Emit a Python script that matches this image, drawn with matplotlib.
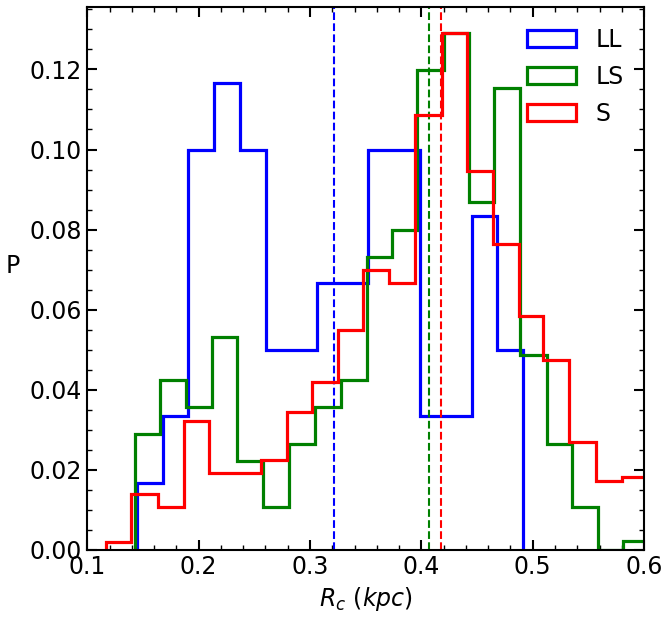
import numpy as np
import matplotlib
matplotlib.use("Agg")
import matplotlib.pyplot as plt
from matplotlib.ticker import MultipleLocator

# bin edges and per-bin probabilities
ll_edges = [0.1447, 0.1676, 0.1906, 0.2139, 0.2373, 0.2604, 0.2834, 0.3063,
            0.3293, 0.3523, 0.3755, 0.3987, 0.4219, 0.4452, 0.4677, 0.4910]
ll_prob = [0.0167, 0.0333, 0.1000, 0.1167, 0.1000, 0.0500, 0.0500, 0.0667,
           0.0667, 0.1000, 0.1000, 0.0333, 0.0333, 0.0833, 0.0500]

ls_edges = [0.1427, 0.1657, 0.1885, 0.2119, 0.2349, 0.2580, 0.2810, 0.3045,
            0.3275, 0.3508, 0.3739, 0.3963, 0.4203, 0.4428, 0.4652, 0.4886,
            0.5126, 0.5350, 0.5584, 0.5814, 0.6045]
ls_prob = [0.0288, 0.0423, 0.0356, 0.0531, 0.0222, 0.0108, 0.0265, 0.0356,
           0.0423, 0.0732, 0.0800, 0.1199, 0.1292, 0.0868, 0.1154, 0.0486,
           0.0265, 0.0108, 0.0000, 0.0022]

s_edges = [0.1166, 0.1397, 0.1631, 0.1870, 0.2094, 0.2325, 0.2556, 0.2790,
           0.3020, 0.3253, 0.3478, 0.3712, 0.3945, 0.4182, 0.4407, 0.4640,
           0.4877, 0.5095, 0.5329, 0.5566, 0.5800, 0.6033]
s_prob = [0.0019, 0.0139, 0.0107, 0.0321, 0.0192, 0.0192, 0.0224, 0.0343,
          0.0418, 0.0549, 0.0699, 0.0667, 0.1087, 0.1292, 0.0946, 0.0764,
          0.0583, 0.0475, 0.0269, 0.0173, 0.0182]

# medians (dashed lines)
medians = {'LL': 0.3212, 'LS': 0.4065, 'S': 0.4176}

series = [('LL', ll_edges, ll_prob, 'blue'),
          ('LS', ls_edges, ls_prob, 'green'),
          ('S', s_edges, s_prob, 'red')]


def main():
    fig = plt.figure(figsize=(6.71, 6.17), dpi=100)
    ax = fig.add_axes([0.130, 0.109, 0.830, 0.880])

    for name, edges, prob, c in series:
        edges = np.array(edges)
        ax.hist(edges[:-1], bins=edges, weights=prob, histtype='step',
                color=c, linewidth=2.3, label=name)
        ax.axvline(medians[name], color=c, linestyle='--', linewidth=1.5)

    ax.set_xlim(0.1, 0.6)
    ax.set_ylim(bottom=0)

    ax.xaxis.set_major_locator(MultipleLocator(0.1))
    ax.xaxis.set_minor_locator(MultipleLocator(0.02))
    ax.yaxis.set_major_locator(MultipleLocator(0.02))
    ax.yaxis.set_minor_locator(MultipleLocator(0.005))
    ax.tick_params(which='both', direction='in', top=True, right=True)
    ax.tick_params(which='major', length=7, width=1.5, labelsize=17, pad=4)
    ax.tick_params(which='minor', length=3.5, width=1)
    for sp in ax.spines.values():
        sp.set_linewidth(1.5)

    ax.set_xlabel(r'$R_c\ (kpc)$', fontsize=17)
    ax.set_ylabel('P', fontsize=17, rotation=0, labelpad=12)

    ax.legend(loc='upper right', frameon=False, fontsize=17,
              handlelength=2.1, handleheight=0.75, labelspacing=0.55,
              borderaxespad=0.48)

    fig.savefig('out.png', dpi=100)


if __name__ == '__main__':
    main()
